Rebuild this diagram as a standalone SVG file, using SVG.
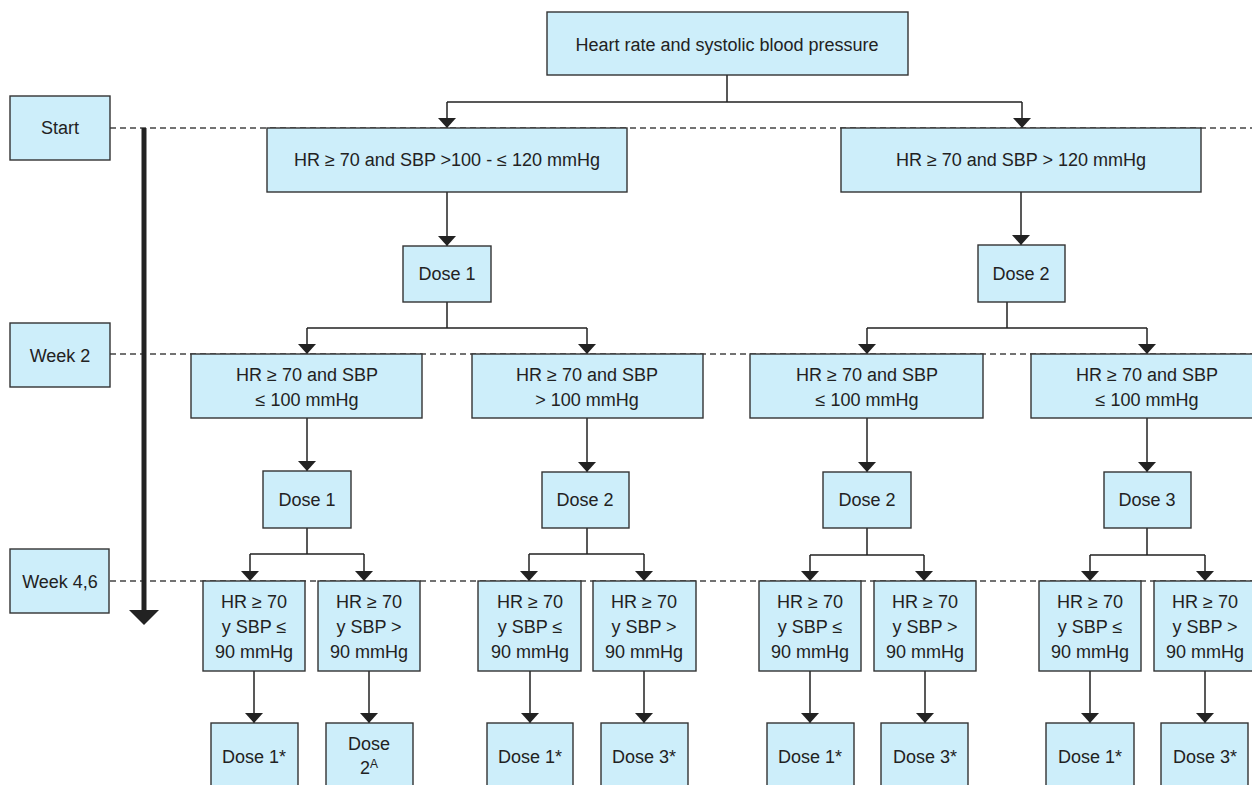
<svg xmlns="http://www.w3.org/2000/svg" width="1252" height="785" viewBox="0 0 1252 785">
<defs>
<style>
.b{fill:#cdeefa;stroke:#333;stroke-width:1.4}
.t{font-family:"Liberation Sans",Arial,sans-serif;font-size:18px;fill:#222;text-anchor:middle}
.c{fill:none;stroke:#222;stroke-width:1.5}
.d{fill:none;stroke:#444;stroke-width:1.3;stroke-dasharray:6 4}
</style>
<marker id="ah" viewBox="0 0 10 18" refX="10" refY="9" markerWidth="10" markerHeight="18" markerUnits="userSpaceOnUse" orient="auto">
<path d="M0,0 L10,9 L0,18 z" fill="#222"/>
</marker>
</defs>
<rect width="1252" height="785" fill="#fff"/>
<g id="timeline">
<line class="d" x1="110" y1="128" x2="1252" y2="128"/>
<line class="d" x1="110" y1="354" x2="1252" y2="354"/>
<line class="d" x1="110" y1="581" x2="1252" y2="581"/>
<line x1="144" y1="128" x2="144" y2="612" stroke="#222" stroke-width="5"/>
<polygon points="129,610 159,610 144,625" fill="#222"/>
</g>
<g id="connectors">
<path class="c" d="M727,75 V102 M447,102 H1022"/>
<path class="c" d="M447,102 V128" marker-end="url(#ah)"/>
<path class="c" d="M1022,102 V128" marker-end="url(#ah)"/>
<path class="c" d="M447,192 V246" marker-end="url(#ah)"/>
<path class="c" d="M1021,192 V245" marker-end="url(#ah)"/>
<path class="c" d="M447,302 V328 M307,328 H587"/>
<path class="c" d="M307,328 V354" marker-end="url(#ah)"/>
<path class="c" d="M587,328 V354" marker-end="url(#ah)"/>
<path class="c" d="M1007,302 V328 M867,328 H1147"/>
<path class="c" d="M867,328 V354" marker-end="url(#ah)"/>
<path class="c" d="M1147,328 V354" marker-end="url(#ah)"/>
<path class="c" d="M307,418 V471" marker-end="url(#ah)"/>
<path class="c" d="M587,418 V472" marker-end="url(#ah)"/>
<path class="c" d="M867,418 V472" marker-end="url(#ah)"/>
<path class="c" d="M1147,418 V472" marker-end="url(#ah)"/>
<path class="c" d="M307,528 V554 M250,554 H364"/>
<path class="c" d="M250,554 V581" marker-end="url(#ah)"/>
<path class="c" d="M364,554 V581" marker-end="url(#ah)"/>
<path class="c" d="M587,528 V554 M529,554 H644"/>
<path class="c" d="M529,554 V581" marker-end="url(#ah)"/>
<path class="c" d="M644,554 V581" marker-end="url(#ah)"/>
<path class="c" d="M867,528 V555 M810,555 H924"/>
<path class="c" d="M810,555 V581" marker-end="url(#ah)"/>
<path class="c" d="M924,555 V581" marker-end="url(#ah)"/>
<path class="c" d="M1147,528 V555 M1090,555 H1205"/>
<path class="c" d="M1090,555 V581" marker-end="url(#ah)"/>
<path class="c" d="M1205,555 V581" marker-end="url(#ah)"/>
<path class="c" d="M254,671 V723" marker-end="url(#ah)"/>
<path class="c" d="M369,671 V723" marker-end="url(#ah)"/>
<path class="c" d="M530,671 V723" marker-end="url(#ah)"/>
<path class="c" d="M644,671 V723" marker-end="url(#ah)"/>
<path class="c" d="M810,671 V723" marker-end="url(#ah)"/>
<path class="c" d="M925,671 V723" marker-end="url(#ah)"/>
<path class="c" d="M1090,671 V723" marker-end="url(#ah)"/>
<path class="c" d="M1205,671 V723" marker-end="url(#ah)"/>
</g>
<g id="start"><rect class="b" x="10" y="96" width="100" height="64"/><text class="t" x="60" y="134">Start</text></g>
<g id="week2"><rect class="b" x="10" y="323" width="100" height="64"/><text class="t" x="60" y="362">Week 2</text></g>
<g id="week46"><rect class="b" x="10" y="549" width="99" height="64"/><text class="t" x="60" y="588">Week 4,6</text></g>
<g id="root"><rect class="b" x="547" y="12" width="361" height="63"/><text class="t" x="727" y="51">Heart rate and systolic blood pressure</text></g>
<g id="a"><rect class="b" x="267" y="128" width="360" height="64"/><text class="t" x="447" y="166">HR ≥ 70 and SBP &gt;100 - ≤ 120 mmHg</text></g>
<g id="b"><rect class="b" x="841" y="128" width="360" height="64"/><text class="t" x="1021" y="166">HR ≥ 70 and SBP &gt; 120 mmHg</text></g>
<g id="a-dose"><rect class="b" x="403" y="246" width="88" height="56"/><text class="t" x="447" y="280">Dose 1</text></g>
<g id="b-dose"><rect class="b" x="978" y="245" width="87" height="57"/><text class="t" x="1021" y="280">Dose 2</text></g>
<g id="c"><rect class="b" x="191" y="354" width="231" height="64"/><text class="t" x="307" y="381">HR ≥ 70 and SBP</text><text class="t" x="307" y="406">≤ 100 mmHg</text></g>
<g id="d"><rect class="b" x="472" y="354" width="231" height="64"/><text class="t" x="587" y="381">HR ≥ 70 and SBP</text><text class="t" x="587" y="406">&gt; 100 mmHg</text></g>
<g id="e"><rect class="b" x="750" y="354" width="233" height="64"/><text class="t" x="867" y="381">HR ≥ 70 and SBP</text><text class="t" x="867" y="406">≤ 100 mmHg</text></g>
<g id="f"><rect class="b" x="1031" y="354" width="232" height="64"/><text class="t" x="1147" y="381">HR ≥ 70 and SBP</text><text class="t" x="1147" y="406">≤ 100 mmHg</text></g>
<g id="c-dose"><rect class="b" x="263" y="471" width="88" height="57"/><text class="t" x="307" y="506">Dose 1</text></g>
<g id="d-dose"><rect class="b" x="542" y="472" width="87" height="56"/><text class="t" x="585" y="506">Dose 2</text></g>
<g id="e-dose"><rect class="b" x="823" y="472" width="88" height="56"/><text class="t" x="867" y="506">Dose 2</text></g>
<g id="f-dose"><rect class="b" x="1104" y="472" width="87" height="56"/><text class="t" x="1147" y="506">Dose 3</text></g>
<g id="g"><rect class="b" x="203" y="581" width="102" height="90"/><text class="t" x="254" y="608">HR ≥ 70</text><text class="t" x="254" y="633">y SBP ≤</text><text class="t" x="254" y="658">90 mmHg</text></g>
<g id="h"><rect class="b" x="318" y="581" width="102" height="90"/><text class="t" x="369" y="608">HR ≥ 70</text><text class="t" x="369" y="633">y SBP &gt;</text><text class="t" x="369" y="658">90 mmHg</text></g>
<g id="i"><rect class="b" x="478" y="581" width="103" height="90"/><text class="t" x="530" y="608">HR ≥ 70</text><text class="t" x="530" y="633">y SBP ≤</text><text class="t" x="530" y="658">90 mmHg</text></g>
<g id="j"><rect class="b" x="593" y="581" width="103" height="90"/><text class="t" x="644" y="608">HR ≥ 70</text><text class="t" x="644" y="633">y SBP &gt;</text><text class="t" x="644" y="658">90 mmHg</text></g>
<g id="k"><rect class="b" x="759" y="581" width="102" height="90"/><text class="t" x="810" y="608">HR ≥ 70</text><text class="t" x="810" y="633">y SBP ≤</text><text class="t" x="810" y="658">90 mmHg</text></g>
<g id="l"><rect class="b" x="874" y="581" width="102" height="90"/><text class="t" x="925" y="608">HR ≥ 70</text><text class="t" x="925" y="633">y SBP &gt;</text><text class="t" x="925" y="658">90 mmHg</text></g>
<g id="m"><rect class="b" x="1039" y="581" width="102" height="90"/><text class="t" x="1090" y="608">HR ≥ 70</text><text class="t" x="1090" y="633">y SBP ≤</text><text class="t" x="1090" y="658">90 mmHg</text></g>
<g id="n"><rect class="b" x="1154" y="581" width="102" height="90"/><text class="t" x="1205" y="608">HR ≥ 70</text><text class="t" x="1205" y="633">y SBP &gt;</text><text class="t" x="1205" y="658">90 mmHg</text></g>
<g id="g-dose"><rect class="b" x="211" y="723" width="87" height="70"/><text class="t" x="254" y="763">Dose 1*</text></g>
<g id="h-dose"><rect class="b" x="326" y="723" width="87" height="70"/><text class="t" x="369" y="750">Dose</text><text class="t" x="369" y="774">2<tspan font-size="12" dy="-6">A</tspan></text></g>
<g id="i-dose"><rect class="b" x="487" y="723" width="86" height="70"/><text class="t" x="530" y="763">Dose 1*</text></g>
<g id="j-dose"><rect class="b" x="601" y="723" width="87" height="70"/><text class="t" x="644" y="763">Dose 3*</text></g>
<g id="k-dose"><rect class="b" x="767" y="723" width="87" height="70"/><text class="t" x="810" y="763">Dose 1*</text></g>
<g id="l-dose"><rect class="b" x="881" y="723" width="87" height="70"/><text class="t" x="925" y="763">Dose 3*</text></g>
<g id="m-dose"><rect class="b" x="1046" y="723" width="88" height="70"/><text class="t" x="1090" y="763">Dose 1*</text></g>
<g id="n-dose"><rect class="b" x="1161" y="723" width="87" height="70"/><text class="t" x="1205" y="763">Dose 3*</text></g>
</svg>
